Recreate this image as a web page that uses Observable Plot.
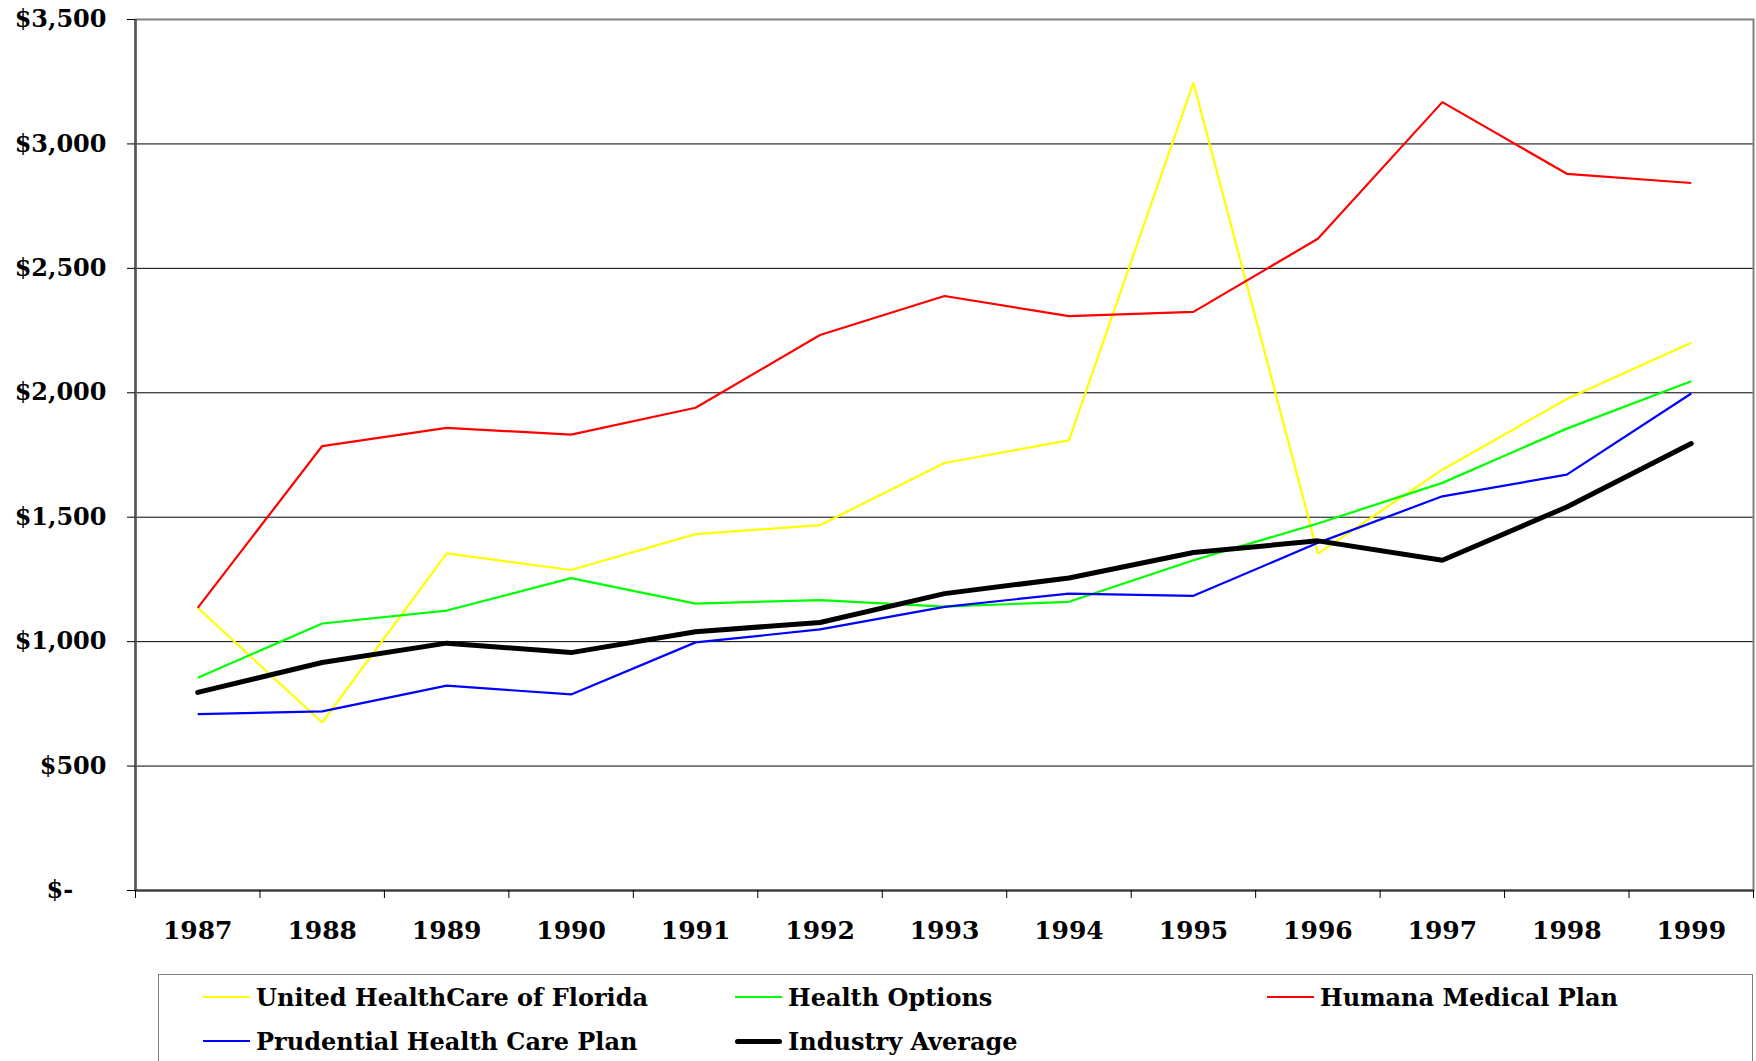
<!DOCTYPE html>
<html>
<head>
<meta charset="utf-8">
<script src="https://cdn.jsdelivr.net/npm/d3@7"></script>
<script src="https://cdn.jsdelivr.net/npm/@observablehq/plot@0.6"></script>
<style>
  html, body { margin: 0; padding: 0; background: #fff; overflow: hidden; }
  #wrap { position: relative; width: 1756px; height: 1061px; font-family: "DejaVu Serif", serif; font-weight: bold; }
  #legend { position: absolute; left: 158px; top: 974px; width: 1595px; height: 120px; border: 1.5px solid #808080; box-sizing: border-box; }
  .item { position: absolute; display: flex; align-items: center; font-size: 24px; color: #000; white-space: nowrap; height: 30px; }
  .sw { width: 47px; margin-right: 6px; }
</style>
</head>
<body>
<div id="wrap">
  <div id="chart"></div>
  <div id="legend"></div>
</div>
<script>
const years = [1987, 1988, 1989, 1990, 1991, 1992, 1993, 1994, 1995, 1996, 1997, 1998, 1999];
const seriesNames = ["United HealthCare of Florida", "Health Options", "Humana Medical Plan", "Prudential Health Care Plan", "Industry Average"];
const seriesColors = ["#FFFF00", "#00FF00", "#FF0000", "#0000FF", "#000000"];
const seriesWidths = [2.2, 2.2, 2.2, 2.2, 5];
const unitedHealthCare = [1136, 675, 1355, 1288, 1432, 1468, 1718, 1809, 3246, 1354, 1691, 1975, 2201];
const healthOptions = [855, 1073, 1125, 1255, 1153, 1167, 1141, 1160, 1327, 1475, 1638, 1856, 2046];
const humana = [1136, 1786, 1859, 1832, 1940, 2232, 2389, 2308, 2325, 2619, 3168, 2880, 2843];
const prudential = [709, 720, 823, 788, 997, 1049, 1140, 1193, 1184, 1397, 1584, 1671, 1997];
const industryAverage = [796, 916, 994, 956, 1040, 1077, 1193, 1256, 1358, 1405, 1327, 1541, 1796];
const yTicks = [0, 500, 1000, 1500, 2000, 2500, 3000, 3500];

const allValues = [unitedHealthCare, healthOptions, humana, prudential, industryAverage];
const data = [];
seriesNames.forEach((name, i) => {
  years.forEach((yr, j) => data.push({series: name, year: yr, value: allValues[i][j]}));
});
const boundaries = years.map(y => y - 0.5).concat([years[years.length - 1] + 0.5]);

const fmt = d => d === 0 ? "$-\u2007\u2007" : "$" + d3.format(",")(d);

const lines = seriesNames.map((name, i) =>
  Plot.line(data.filter(d => d.series === name), {
    x: "year", y: "value", stroke: seriesColors[i], strokeWidth: seriesWidths[i],
    strokeLinejoin: "miter", strokeLinecap: i === 4 ? "round" : "butt"
  })
);

const chart = Plot.plot({
  width: 1756,
  height: 950,
  marginTop: 19,
  marginBottom: 60,
  marginLeft: 135,
  marginRight: 3,
  style: {fontFamily: "DejaVu Serif", fontSize: "24px", fontWeight: "bold", color: "#000", background: "#fff"},
  x: {domain: [boundaries[0], boundaries[boundaries.length - 1]]},
  y: {domain: [0, 3500]},
  marks: [
    Plot.ruleY(yTicks.slice(1, -1), {stroke: "#000", strokeWidth: 1}),
    Plot.frame({stroke: "#808080", strokeWidth: 2}),
    Plot.ruleX([boundaries[0]], {stroke: "#555", strokeWidth: 2.5}),
    Plot.ruleY([0], {stroke: "#333", strokeWidth: 2}),
    Plot.axisY({ticks: yTicks, tickSize: 8, tickPadding: 21, tickFormat: fmt, label: null}),
    Plot.axisX({ticks: boundaries, tickSize: 8, tickFormat: () => "", label: null}),
    Plot.axisX({ticks: years, tickSize: 0, tickPadding: 31, tickFormat: d => String(d), label: null, fontSize: 25}),
    ...lines
  ]
});
document.getElementById("chart").appendChild(chart);

const legend = document.getElementById("legend");
seriesNames.forEach((name, i) => {
  const col = i % 3, row = Math.floor(i / 3);
  const item = document.createElement("div");
  item.className = "item";
  item.style.left = (44 + col * 532) + "px";
  item.style.top = (22 - 15 + row * 44) + "px";
  const sw = document.createElement("div");
  sw.className = "sw";
  sw.style.height = (i === 4 ? 5 : 2.5) + "px";
  sw.style.background = seriesColors[i];
  if (i === 4) sw.style.borderRadius = "3px";
  const t = document.createElement("span");
  t.textContent = name;
  item.appendChild(sw);
  item.appendChild(t);
  legend.appendChild(item);
});
</script>
</body>
</html>
